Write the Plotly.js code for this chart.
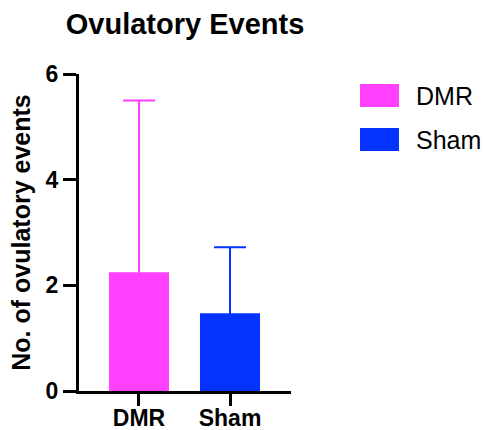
<!DOCTYPE html>
<html>
<head>
<meta charset="utf-8">
<script src="https://cdn.plot.ly/plotly-3.0.1.min.js"></script>
<style>
  html, body { margin: 0; padding: 0; background: #fff; }
  #chart { width: 485px; height: 430px; }
</style>
</head>
<body>
<div id="chart"></div>
<script>
// Ovulatory events per group: mean with upper SD whisker
const groups = ['DMR', 'Sham'];
const meanEvents = [2.25, 1.47];
const sdEvents = [3.25, 1.25];
const groupColors = ['#FF40FF', '#0433FF'];
const yTicks = [0, 2, 4, 6];

const W = 485, H = 430;
const M = { l: 79, r: 194, t: 74, b: 39 };
const plotW = W - M.l - M.r, plotH = H - M.t - M.b;
// pixel -> paper helpers for the legend placed to the right of the axes
const px = x => (x - M.l) / plotW;
const py = y => (H - M.b - y) / plotH;

const FONT = 'Liberation Sans, Arial, Helvetica, sans-serif';
const BAR_W = 0.66;

// Whisker layer: a transparent bar carrying the SD error bar. Its lower cap
// sits just inside the bar top so the solid bar drawn next hides it.
const whiskers = groups.map((g, i) => ({
  type: 'bar',
  name: g + ' SD',
  x: [g],
  y: [meanEvents[i]],
  width: BAR_W,
  marker: { color: 'rgba(0,0,0,0)', line: { width: 0 } },
  error_y: {
    type: 'data',
    symmetric: false,
    array: [sdEvents[i]],
    arrayminus: [0.06],
    color: groupColors[i],
    thickness: 2,
    width: 16
  },
  showlegend: false,
  hoverinfo: 'skip'
}));

const bars = groups.map((g, i) => ({
  type: 'bar',
  name: g,
  x: [g],
  y: [meanEvents[i]],
  width: BAR_W,
  marker: { color: groupColors[i], line: { width: 0 } },
  showlegend: false,
  hoverinfo: 'skip'
}));

// Legend: large colour swatches with labels
const shapes = [];
const annotations = [];
const legendRows = [95.5, 139.5];
groups.forEach((g, i) => {
  const cy = legendRows[i];
  shapes.push({
    type: 'rect', xref: 'paper', yref: 'paper',
    x0: px(360), x1: px(399), y0: py(cy + 11.5), y1: py(cy - 11.5),
    fillcolor: groupColors[i], line: { width: 0 }
  });
  annotations.push({
    xref: 'paper', yref: 'paper', x: px(414), y: py(cy),
    xanchor: 'left', yanchor: 'middle', showarrow: false,
    text: g, font: { family: FONT, size: 25, color: '#000' }
  });
});

const layout = {
  width: W, height: H,
  margin: M,
  paper_bgcolor: '#fff', plot_bgcolor: '#fff',
  barmode: 'overlay',
  showlegend: false,
  title: {
    text: '<b>Ovulatory Events</b>',
    font: { family: FONT, size: 29, color: '#000' },
    xref: 'container', yref: 'container',
    x: 185 / W, xanchor: 'center',
    y: 1 - 24 / H, yanchor: 'middle'
  },
  xaxis: {
    type: 'category',
    range: [-0.659, 1.67],
    showline: true, linecolor: '#000', linewidth: 3,
    ticks: 'outside', ticklen: 12, tickwidth: 3, tickcolor: '#000',
    ticklabelstandoff: -8,
    showgrid: false, zeroline: false,
    tickfont: { family: FONT, size: 23, color: '#000', weight: 'bold' },
    fixedrange: true
  },
  yaxis: {
    range: [0, 6],
    tickvals: yTicks,
    ticktext: yTicks.map(String),
    showline: true, linecolor: '#000', linewidth: 3,
    ticks: 'outside', ticklen: 13, tickwidth: 3, tickcolor: '#000',
    showgrid: false, zeroline: false,
    tickfont: { family: FONT, size: 23, color: '#000', weight: 'bold' },
    title: {
      text: '<b>No. of ovulatory events</b>',
      font: { family: FONT, size: 25, color: '#000' },
      standoff: 8
    },
    automargin: false,
    fixedrange: true
  },
  shapes: shapes,
  annotations: annotations
};

Plotly.newPlot('chart', whiskers.concat(bars), layout, { displayModeBar: false, staticPlot: true });
</script>
</body>
</html>
